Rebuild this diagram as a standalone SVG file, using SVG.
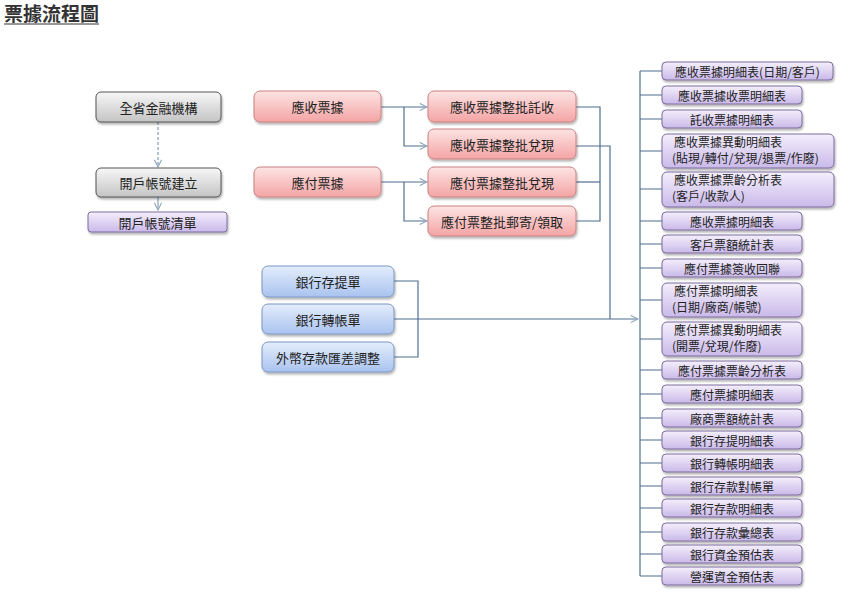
<svg xmlns="http://www.w3.org/2000/svg" width="851" height="602" viewBox="0 0 851 602">
<defs>
<linearGradient id="gGray" x1="0" y1="0" x2="0" y2="1"><stop offset="0" stop-color="#f7f7f7"/><stop offset="1" stop-color="#c4c4c4"/></linearGradient>
<linearGradient id="gPink" x1="0" y1="0" x2="0" y2="1"><stop offset="0" stop-color="#fde4e4"/><stop offset="1" stop-color="#f4a4a4"/></linearGradient>
<linearGradient id="gBlue" x1="0" y1="0" x2="0" y2="1"><stop offset="0" stop-color="#e4edfc"/><stop offset="1" stop-color="#a9c3ef"/></linearGradient>
<linearGradient id="gPurple" x1="0" y1="0" x2="0" y2="1"><stop offset="0" stop-color="#f4effc"/><stop offset="1" stop-color="#c9b9e9"/></linearGradient>
<filter id="sh" x="-10%" y="-20%" width="120%" height="150%"><feDropShadow dx="1" dy="2" stdDeviation="1.2" flood-color="#000" flood-opacity="0.3"/></filter>
<marker id="arr" viewBox="0 0 10 10" refX="9" refY="5" markerWidth="9" markerHeight="9" orient="auto" markerUnits="userSpaceOnUse"><path d="M1,1 L9,5 L1,9" fill="none" stroke="#8ea4bc" stroke-width="1.2"/></marker>
</defs>
<style>
text{font-family:"Noto Sans CJK TC","Noto Sans CJK SC",sans-serif;fill:#222;}
.t{font-size:13px;text-anchor:middle;dominant-baseline:central;}
.s{font-size:12px;text-anchor:middle;dominant-baseline:central;}
.l{font-size:12px;}
.gray{fill:url(#gGray);stroke:#555;stroke-width:1;filter:url(#sh);}
.pink{fill:url(#gPink);stroke:#c98080;stroke-width:1;filter:url(#sh);}
.blue{fill:url(#gBlue);stroke:#7a96c4;stroke-width:1;filter:url(#sh);}
.purple{fill:url(#gPurple);stroke:#7d6c9e;stroke-width:1;filter:url(#sh);}
.c{fill:none;stroke:#4f6f90;stroke-width:1.2;}
.d{fill:none;stroke:#6a88a8;stroke-width:1;stroke-dasharray:3,2;}
</style>
<rect width="851" height="602" fill="#fff"/>
<g id="title">
<text x="4" y="21" style="font-size:19px;font-weight:bold;fill:#333;" textLength="95" lengthAdjust="spacingAndGlyphs">票據流程圖</text>
<line x1="4" y1="24" x2="99" y2="24" stroke="#333" stroke-width="1.2"/>
</g>
<g id="connectors">
<path class="d" d="M158,122 V167" marker-end="url(#arr)"/>
<path class="c" d="M158,197 V210" marker-end="url(#arr)" style="stroke:#8ea4bc"/>
<path class="c" d="M381,107 H427" marker-end="url(#arr)"/>
<path class="c" d="M404,107 V146 H427" marker-end="url(#arr)"/>
<path class="c" d="M381,182 H427" marker-end="url(#arr)"/>
<path class="c" d="M404,182 V221 H427" marker-end="url(#arr)"/>
<path class="c" d="M576,107 H600 V221 H576"/>
<path class="c" d="M576,182 H600"/>
<path class="c" d="M576,146 H610 V319"/>
<path class="c" d="M394,281 H418 V357 H394"/>
<path class="c" d="M394,319 H638" marker-end="url(#arr)"/>
<path class="c" d="M640,71 V576"/>
<path class="c" d="M640,71 H662 M640,95 H662 M640,119 H662 M640,151 H662 M640,189 H662 M640,221 H662 M640,244 H662 M640,268 H662 M640,300 H662 M640,339 H662 M640,370 H662 M640,394 H662 M640,418 H662 M640,440 H662 M640,463 H662 M640,486 H662 M640,508 H662 M640,532 H662 M640,554 H662 M640,576 H662"/>
</g>
<g id="n1"><rect class="gray" x="96" y="92" width="125" height="30" rx="5"/><text class="t" x="158.5" y="107">全省金融機構</text></g>
<g id="n2"><rect class="gray" x="96" y="168" width="125" height="29" rx="5"/><text class="t" x="158.5" y="182.5">開戶帳號建立</text></g>
<g id="n3"><rect class="purple" x="88" y="212" width="139" height="20" rx="3"/><text class="t" x="157.5" y="222">開戶帳號清單</text></g>
<g id="p1"><rect class="pink" x="254" y="91" width="127" height="31" rx="6"/><text class="t" x="317.5" y="106.5">應收票據</text></g>
<g id="p2"><rect class="pink" x="254" y="167" width="127" height="30" rx="6"/><text class="t" x="317.5" y="182">應付票據</text></g>
<g id="p3"><rect class="pink" x="428" y="91" width="148" height="31" rx="6"/><text class="t" x="502" y="106.5">應收票據整批託收</text></g>
<g id="p4"><rect class="pink" x="428" y="129" width="148" height="30" rx="6"/><text class="t" x="502" y="144">應收票據整批兌現</text></g>
<g id="p5"><rect class="pink" x="428" y="167" width="148" height="30" rx="6"/><text class="t" x="502" y="182">應付票據整批兌現</text></g>
<g id="p6"><rect class="pink" x="428" y="206" width="148" height="30" rx="6"/><text class="t" x="502" y="221">應付票整批郵寄/領取</text></g>
<g id="b1"><rect class="blue" x="262" y="266" width="132" height="31" rx="6"/><text class="t" x="328" y="281.5">銀行存提單</text></g>
<g id="b2"><rect class="blue" x="262" y="304" width="132" height="30" rx="6"/><text class="t" x="328" y="319">銀行轉帳單</text></g>
<g id="b3"><rect class="blue" x="262" y="342" width="132" height="30" rx="6"/><text class="t" x="328" y="357">外幣存款匯差調整</text></g>
<g id="r1"><rect class="purple" x="662" y="62" width="171" height="18" rx="4"/><text class="s" x="747.5" y="71">應收票據明細表(日期/客戶)</text></g>
<g id="r2"><rect class="purple" x="662" y="86" width="140" height="18" rx="4"/><text class="s" x="732" y="95">應收票據收票明細表</text></g>
<g id="r3"><rect class="purple" x="662" y="110" width="140" height="18" rx="4"/><text class="s" x="732" y="119">託收票據明細表</text></g>
<g id="r4"><rect class="purple" x="662" y="134" width="172" height="34" rx="5"/><text class="l" x="674" y="147">應收票據異動明細表</text><text class="l" x="672" y="163">(貼現/轉付/兌現/退票/作廢)</text></g>
<g id="r5"><rect class="purple" x="662" y="172" width="172" height="35" rx="5"/><text class="l" x="674" y="185">應收票據票齡分析表</text><text class="l" x="672" y="201">(客戶/收款人)</text></g>
<g id="r6"><rect class="purple" x="662" y="212" width="140" height="18" rx="4"/><text class="s" x="732" y="221">應收票據明細表</text></g>
<g id="r7"><rect class="purple" x="662" y="235" width="140" height="18" rx="4"/><text class="s" x="732" y="244">客戶票額統計表</text></g>
<g id="r8"><rect class="purple" x="662" y="259" width="140" height="18" rx="4"/><text class="s" x="732" y="268">應付票據簽收回聯</text></g>
<g id="r9"><rect class="purple" x="662" y="283" width="140" height="34" rx="5"/><text class="l" x="674" y="296">應付票據明細表</text><text class="l" x="672" y="312">(日期/廠商/帳號)</text></g>
<g id="r10"><rect class="purple" x="662" y="322" width="140" height="34" rx="5"/><text class="l" x="674" y="335">應付票據異動明細表</text><text class="l" x="672" y="351">(開票/兌現/作廢)</text></g>
<g id="r11"><rect class="purple" x="662" y="361" width="140" height="18" rx="4"/><text class="s" x="732" y="370">應付票據票齡分析表</text></g>
<g id="r12"><rect class="purple" x="662" y="385" width="140" height="18" rx="4"/><text class="s" x="732" y="394">應付票據明細表</text></g>
<g id="r13"><rect class="purple" x="662" y="409" width="140" height="18" rx="4"/><text class="s" x="732" y="418">廠商票額統計表</text></g>
<g id="r14"><rect class="purple" x="662" y="431" width="140" height="18" rx="4"/><text class="s" x="732" y="440">銀行存提明細表</text></g>
<g id="r15"><rect class="purple" x="662" y="454" width="140" height="18" rx="4"/><text class="s" x="732" y="463">銀行轉帳明細表</text></g>
<g id="r16"><rect class="purple" x="662" y="477" width="140" height="18" rx="4"/><text class="s" x="732" y="486">銀行存款對帳單</text></g>
<g id="r17"><rect class="purple" x="662" y="499" width="140" height="18" rx="4"/><text class="s" x="732" y="508">銀行存款明細表</text></g>
<g id="r18"><rect class="purple" x="662" y="523" width="140" height="18" rx="4"/><text class="s" x="732" y="532">銀行存款彙總表</text></g>
<g id="r19"><rect class="purple" x="662" y="545" width="140" height="18" rx="4"/><text class="s" x="732" y="554">銀行資金預估表</text></g>
<g id="r20"><rect class="purple" x="662" y="567" width="140" height="18" rx="4"/><text class="s" x="732" y="576">營運資金預估表</text></g>
</svg>
